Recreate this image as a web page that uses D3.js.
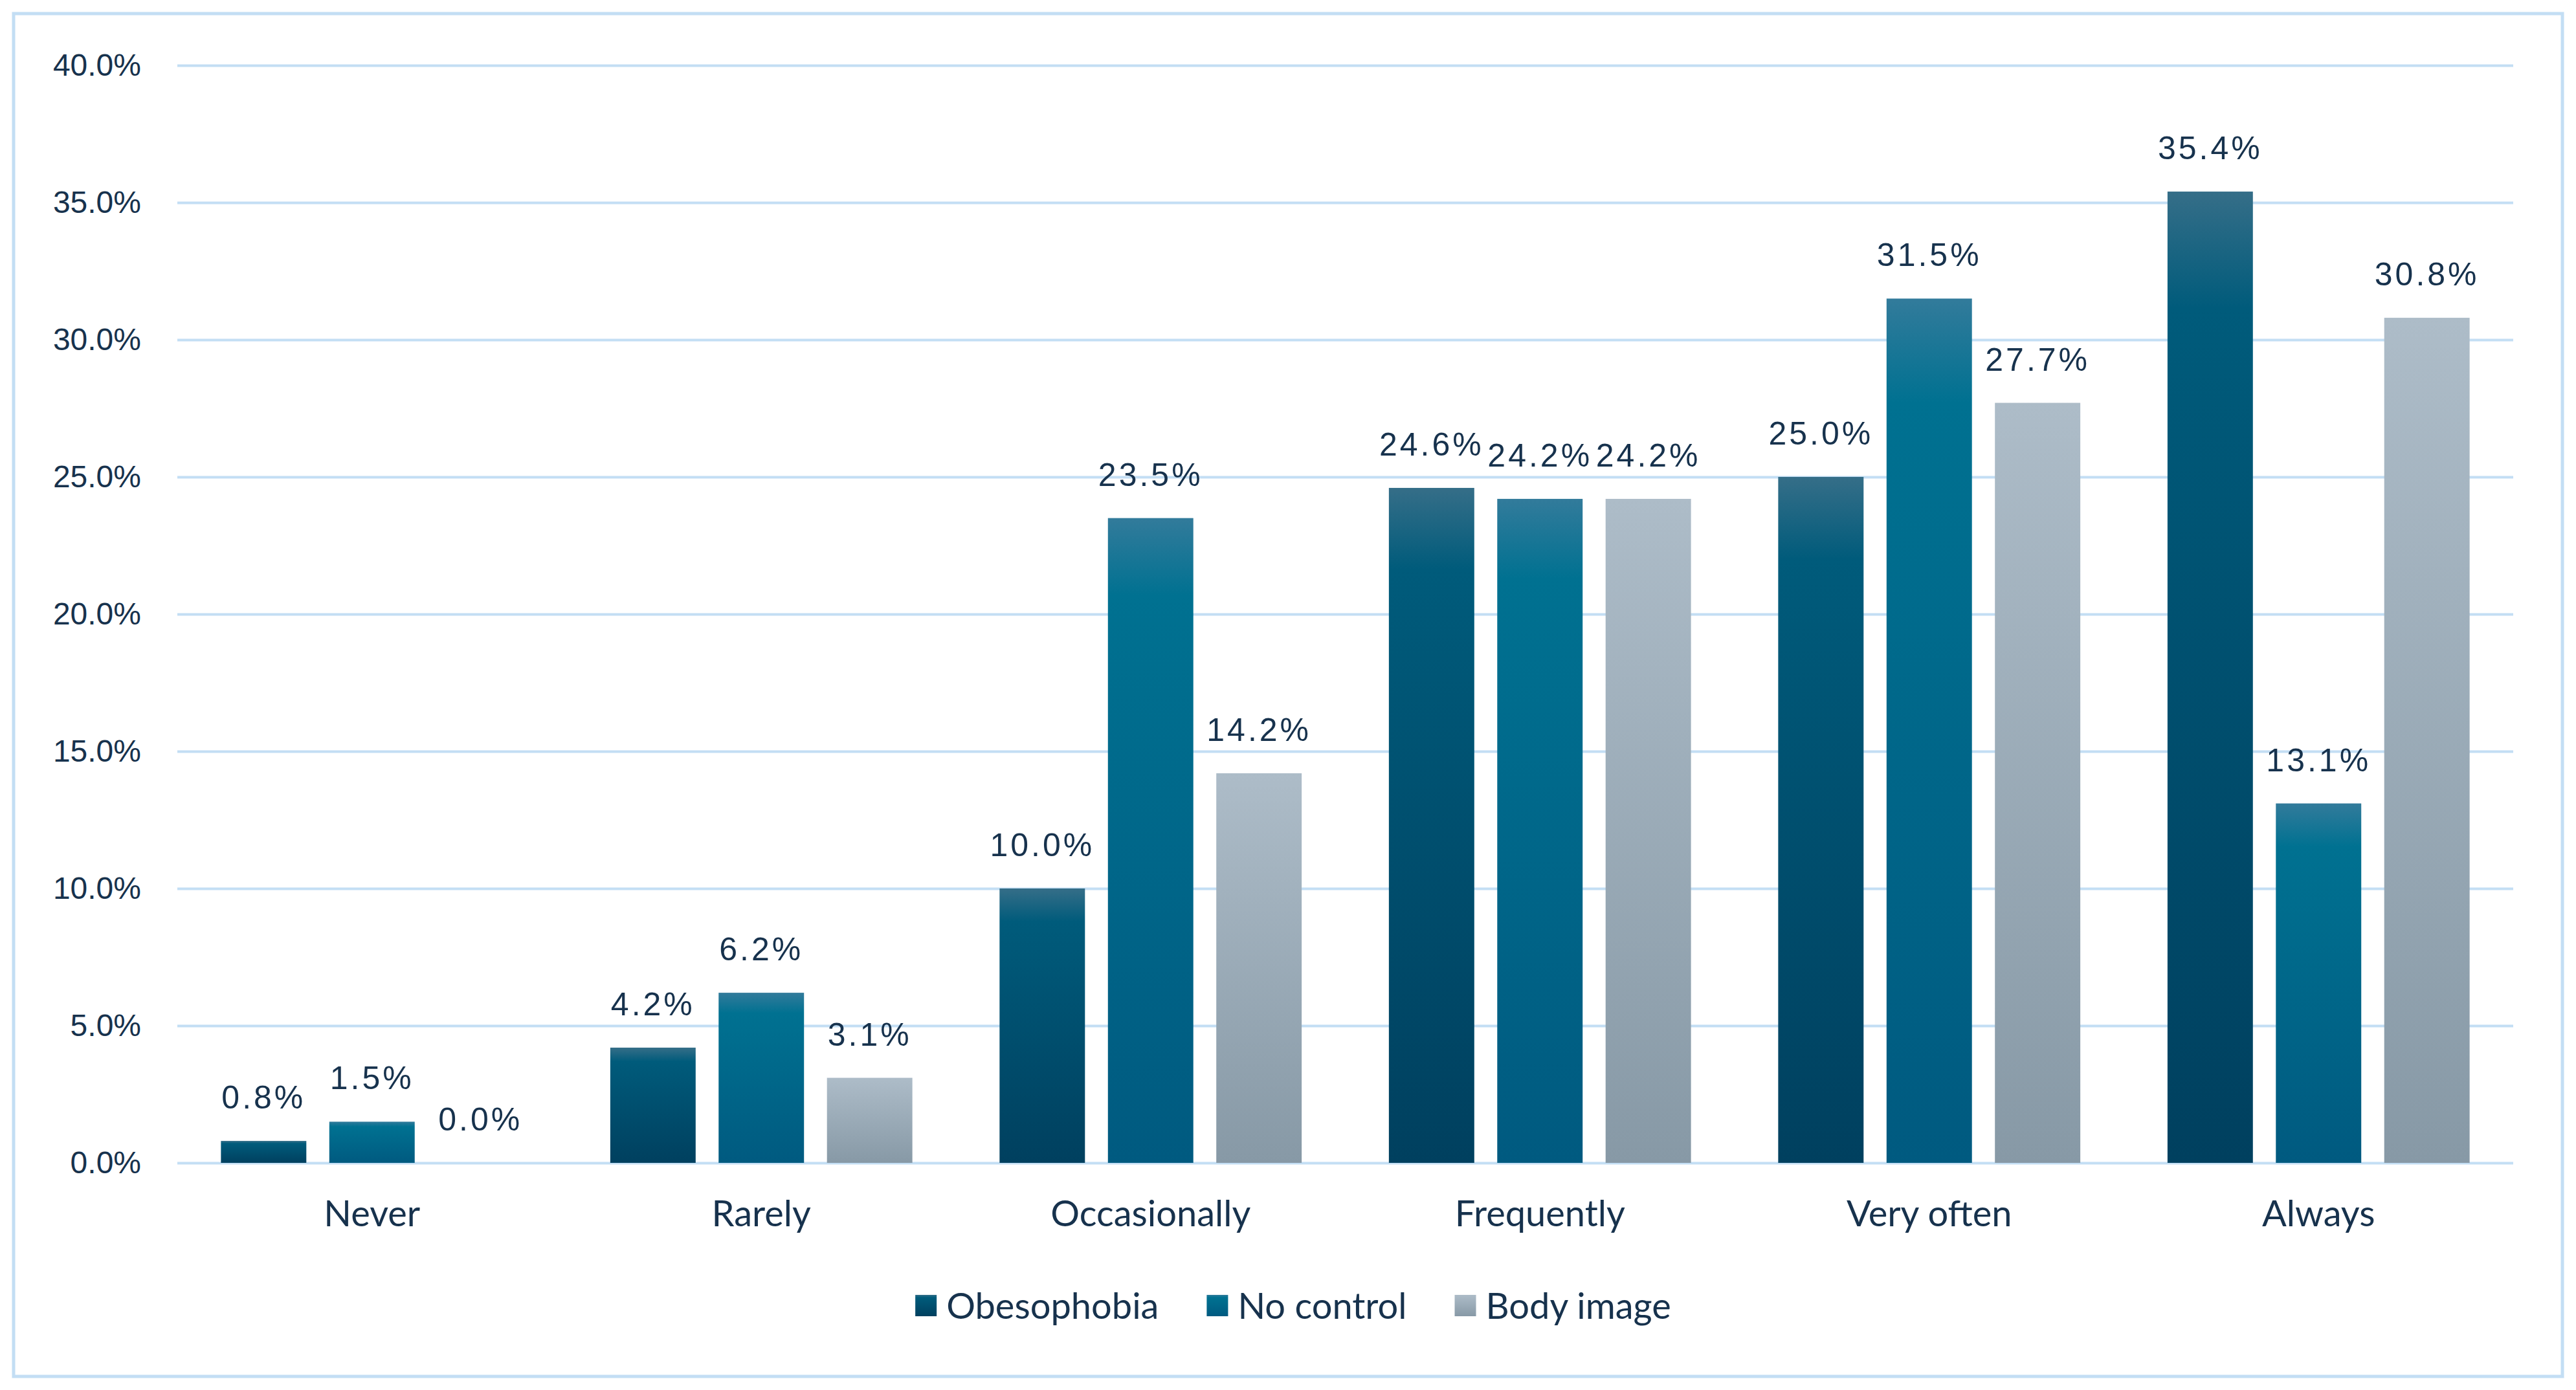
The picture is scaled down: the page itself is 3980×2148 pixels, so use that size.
<!DOCTYPE html>
<html>
    <head>
        <meta charset="utf-8">
        <script src="https://cdn.jsdelivr.net/npm/d3@7/dist/d3.min.js"></script>
    </head>
    <style>
        body { margin: 0; background: #ffffff; }
        text { fill: #17324d; }
    </style>
    <body>
        <div id="canvas"></div>
        <script>
            // data
            var categories = ['Never', 'Rarely', 'Occasionally', 'Frequently', 'Very often', 'Always'];
            var seriesNames = ['Obesophobia', 'No control', 'Body image'];
            var obesophobia = [0.8, 4.2, 10.0, 24.6, 25.0, 35.4];
            var noControl = [1.5, 6.2, 23.5, 24.2, 31.5, 13.1];
            var bodyImage = [0.0, 3.1, 14.2, 24.2, 27.7, 30.8];
            var yTicks = [0, 5, 10, 15, 20, 25, 30, 35, 40];

            const w = 3980;
            const h = 2148;

            // gradient stops per series (light top band, then darker)
            var gradients = [
                [['0%', '#356e88'], ['12%', '#005b7b'], ['100%', '#00405f']],
                [['0%', '#327b9b'], ['12%', '#007191'], ['100%', '#005a80']],
                [['0%', '#adbcc8'], ['100%', '#8799a6']]
            ];

            var series = seriesNames.map((name, i) => ({
                name: name,
                values: [obesophobia, noControl, bodyImage][i]
            }));

            const svg = d3.select('#canvas')
                .append('svg')
                .attr('width', w)
                .attr('height', h);

            var defs = svg.append('defs');
            gradients.forEach((stops, i) => {
                var g = defs.append('linearGradient')
                    .attr('id', 'grad' + i)
                    .attr('x1', 0).attr('y1', 0)
                    .attr('x2', 0).attr('y2', 1);
                stops.forEach(s => {
                    g.append('stop').attr('offset', s[0]).attr('stop-color', s[1]);
                });
            });

            // outer frame
            svg.append('rect')
                .attr('x', 0).attr('y', 0)
                .attr('width', w).attr('height', h)
                .attr('fill', '#ffffff');
            svg.append('rect')
                .attr('x', 21).attr('y', 21)
                .attr('width', 3938).attr('height', 2106)
                .attr('fill', 'none')
                .attr('stroke', '#c3def4')
                .attr('stroke-width', 5);

            const x0 = d3.scaleBand()
                .domain(categories)
                .range([274, 3883])
                .paddingInner(0.224)
                .paddingOuter(0.112);

            const x1 = d3.scaleBand()
                .domain(seriesNames)
                .range([0, x0.bandwidth()])
                .paddingInner(0.212);

            const y = d3.scaleLinear()
                .domain([0, 40])
                .range([1797, 101]);

            // gridlines + y labels
            const yAxis = d3.axisLeft(y)
                .tickValues(yTicks)
                .tickSize(-(3883 - 274))
                .tickPadding(56)
                .tickFormat(d => d.toFixed(1) + '%');

            const gy = svg.append('g')
                .attr('transform', 'translate(274,0)')
                .call(yAxis);
            gy.select('.domain').remove();
            gy.selectAll('.tick line')
                .attr('stroke', '#c3def4')
                .attr('stroke-width', 4);
            gy.selectAll('.tick text')
                .attr('font-family', 'Liberation Sans, Arial, sans-serif')
                .attr('font-size', 48)
                .attr('fill', '#17324d');

            // x labels
            const xAxis = d3.axisBottom(x0).tickSize(0).tickPadding(58);
            const gx = svg.append('g')
                .attr('transform', 'translate(0,1797)')
                .call(xAxis);
            gx.select('.domain').remove();
            gx.selectAll('.tick text')
                .attr('font-family', 'Lato, Open Sans, sans-serif')
                .attr('font-size', 56)
                .attr('fill', '#17324d');

            // bars
            const groups = svg.selectAll('.group')
                .data(categories)
                .enter()
                .append('g')
                .attr('class', 'group')
                .attr('transform', d => `translate(${x0(d)},0)`);

            groups.selectAll('rect')
                .data((c, ci) => series.map((s, si) => ({ name: s.name, si: si, v: s.values[ci] })))
                .enter()
                .append('rect')
                .attr('x', d => x1(d.name))
                .attr('y', d => y(d.v))
                .attr('width', x1.bandwidth())
                .attr('height', d => y(0) - y(d.v))
                .attr('fill', d => `url(#grad${d.si})`);

            groups.selectAll('text.val')
                .data((c, ci) => series.map((s, si) => ({ name: s.name, si: si, v: s.values[ci] })))
                .enter()
                .append('text')
                .attr('class', 'val')
                .text(d => d.v.toFixed(1) + '%')
                .attr('x', d => x1(d.name) + x1.bandwidth() / 2)
                .attr('y', d => y(d.v) - 50)
                .attr('text-anchor', 'middle')
                .attr('font-family', 'Liberation Sans, Arial, sans-serif')
                .attr('font-size', 50)
                .attr('letter-spacing', 4)
                .attr('fill', '#17324d');

            // legend
            const legend = svg.append('g');
            var lx = 0;
            series.forEach((s, i) => {
                var item = legend.append('g').attr('transform', `translate(${lx},0)`);
                item.append('rect')
                    .attr('x', 0).attr('y', -17)
                    .attr('width', 33).attr('height', 33)
                    .attr('fill', `url(#grad${i})`);
                var t = item.append('text')
                    .text(s.name)
                    .attr('x', 48)
                    .attr('y', 0)
                    .attr('dy', '0.35em')
                    .attr('font-family', 'Lato, Open Sans, sans-serif')
                    .attr('font-size', 56)
                    .attr('fill', '#17324d');
                lx += 48 + t.node().getComputedTextLength() + 74;
            });
            var legendW = lx - 74;
            legend.attr('transform', `translate(${1998 - legendW / 2},2018)`);
        </script>
    </body>
</html>
